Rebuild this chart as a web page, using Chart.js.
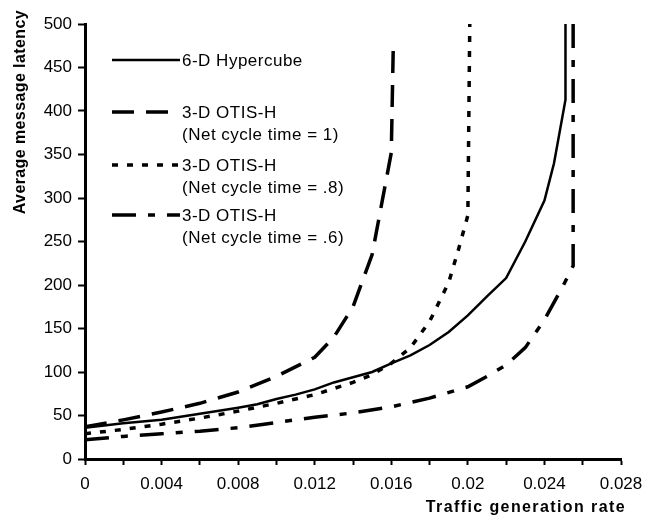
<!DOCTYPE html>
<html>
<head>
<meta charset="utf-8">
<script src="https://cdn.jsdelivr.net/npm/chart.js@4.4.1/dist/chart.umd.min.js"></script>
<style>
  html, body { margin: 0; padding: 0; background: #fff; }
  #wrap { width: 645px; height: 520px; position: relative; }
</style>
</head>
<body>
<div id="wrap"><canvas id="chart"></canvas></div>
<script>
// values
const hyperX = [0, 0.002, 0.004, 0.006, 0.008, 0.009, 0.010, 0.011, 0.012, 0.013, 0.014, 0.015, 0.016, 0.017, 0.018, 0.019, 0.020, 0.021, 0.022, 0.023, 0.024, 0.0245, 0.0251, 0.0251];
const hyperY = [36, 41, 45, 52, 59, 63, 69, 74, 80, 88, 94, 100, 110, 119, 131, 146, 165, 187, 208, 250, 297, 340, 413, 500];

const otis1X = [0, 0.002, 0.004, 0.006, 0.008, 0.010, 0.012, 0.013, 0.014, 0.015, 0.016, 0.0161];
const otis1Y = [37, 45, 54, 64, 77, 95, 117, 140, 175, 235, 352, 470];

const otis08X = [0, 0.002, 0.004, 0.006, 0.008, 0.010, 0.012, 0.014, 0.015, 0.016, 0.017, 0.018, 0.019, 0.0195, 0.020, 0.0201];
const otis08Y = [29, 34, 40, 47, 55, 64, 74, 88, 97, 110, 128, 158, 203, 240, 280, 500];

const otis06X = [0, 0.002, 0.004, 0.006, 0.008, 0.010, 0.012, 0.014, 0.016, 0.018, 0.020, 0.021, 0.022, 0.023, 0.024, 0.025, 0.0255, 0.0255];
const otis06Y = [22, 26, 29, 32, 36, 42, 48, 53, 60, 70, 83, 95, 108, 128, 160, 200, 222, 500];

const seriesLabels = [
    ['6-D Hypercube'],
    ['3-D OTIS-H', '(Net cycle time = 1)'],
    ['3-D OTIS-H', '(Net cycle time = .8)'],
    ['3-D OTIS-H', '(Net cycle time = .6)']
];
const xTitle = 'Traffic generation rate';
const yTitle = 'Average message latency';

const FONT = '"Liberation Sans", Arial, sans-serif';

function points(xs, ys) {
    return xs.map((x, i) => ({ x: x, y: ys[i] }));
}

// legend + axis titles drawn by hand (Excel-like spacing)
const extras = {
    id: 'extras',
    afterDraw(chart) {
        const ctx = chart.ctx;
        const area = chart.chartArea;
        const rows = [60, 112, 165, 215];
        ctx.save();
        ctx.fillStyle = '#000';
        ctx.font = '17px ' + FONT;
        ctx.letterSpacing = '0.5px';
        ctx.textBaseline = 'middle';
        ctx.textAlign = 'left';
        chart.data.datasets.forEach((ds, i) => {
            const y = rows[i];
            ctx.strokeStyle = ds.borderColor;
            ctx.lineWidth = ds.borderWidth;
            ctx.lineCap = 'butt';
            ctx.setLineDash(ds.borderDash || []);
            ctx.beginPath();
            ctx.moveTo(112, y);
            ctx.lineTo(180, y);
            ctx.stroke();
            ctx.setLineDash([]);
            seriesLabels[i].forEach((t, j) => {
                ctx.fillText(t, 182, y + 1 + j * 22);
            });
        });

        // x title, right aligned to the plot edge
        ctx.font = 'bold 16px ' + FONT;
        ctx.letterSpacing = '1.4px';
        ctx.textAlign = 'right';
        ctx.fillText(xTitle, area.right + 5, 508);

        // y title, top aligned
        ctx.letterSpacing = '0.4px';
        ctx.translate(21, 10);
        ctx.rotate(-Math.PI / 2);
        ctx.textAlign = 'right';
        ctx.fillText(yTitle, 0, 0);
        ctx.restore();
    }
};

document.addEventListener('DOMContentLoaded', () => {
    const ctx = document.getElementById('chart').getContext('2d');
    new Chart(ctx, {
        type: 'line',
        data: {
            datasets: [{
                label: seriesLabels[0].join(' '),
                data: points(hyperX, hyperY),
                borderColor: '#000',
                borderWidth: 2.5
            }, {
                label: seriesLabels[1].join(' '),
                data: points(otis1X, otis1Y),
                borderColor: '#000',
                borderWidth: 3.5,
                borderDash: [22, 12]
            }, {
                label: seriesLabels[2].join(' '),
                data: points(otis08X, otis08Y),
                borderColor: '#000',
                borderWidth: 3.5,
                borderDash: [6, 9]
            }, {
                label: seriesLabels[3].join(' '),
                data: points(otis06X, otis06Y),
                borderColor: '#000',
                borderWidth: 3.5,
                borderDash: [24, 12, 7, 12]
            }]
        },
        options: {
            responsive: true,
            maintainAspectRatio: false,
            animation: false,
            layout: { padding: { top: 24, right: 24, left: 0, bottom: 0 } },
            elements: {
                point: { radius: 0 },
                line: { tension: 0, borderCapStyle: 'butt' }
            },
            plugins: {
                legend: { display: false },
                tooltip: { enabled: false }
            },
            scales: {
                x: {
                    type: 'linear',
                    min: 0,
                    max: 0.028,
                    afterFit: (s) => { s.height = 61; s.paddingLeft = 0; s.paddingRight = 0; },
                    border: { color: '#000', width: 3 },
                    grid: { drawOnChartArea: false, drawTicks: true, tickLength: 6, tickColor: '#000', tickWidth: 2 },
                    ticks: {
                        stepSize: 0.002,
                        autoSkip: false,
                        maxRotation: 0,
                        padding: 9,
                        color: '#000',
                        font: { family: FONT, size: 17 },
                        callback: (v) => {
                            const k = Math.round(v / 0.002);
                            return k % 2 === 0 ? String(parseFloat(v.toFixed(3))) : '';
                        }
                    }
                },
                y: {
                    type: 'linear',
                    min: 0,
                    max: 500,
                    afterFit: (s) => { s.width = 85; s.paddingTop = 0; s.paddingBottom = 0; },
                    border: { color: '#000', width: 3 },
                    grid: { drawOnChartArea: false, drawTicks: true, tickLength: 7, tickColor: '#000', tickWidth: 2 },
                    ticks: {
                        stepSize: 50,
                        padding: 6,
                        color: '#000',
                        font: { family: FONT, size: 17 }
                    }
                }
            }
        },
        plugins: [extras]
    });
});
</script>
</body>
</html>
